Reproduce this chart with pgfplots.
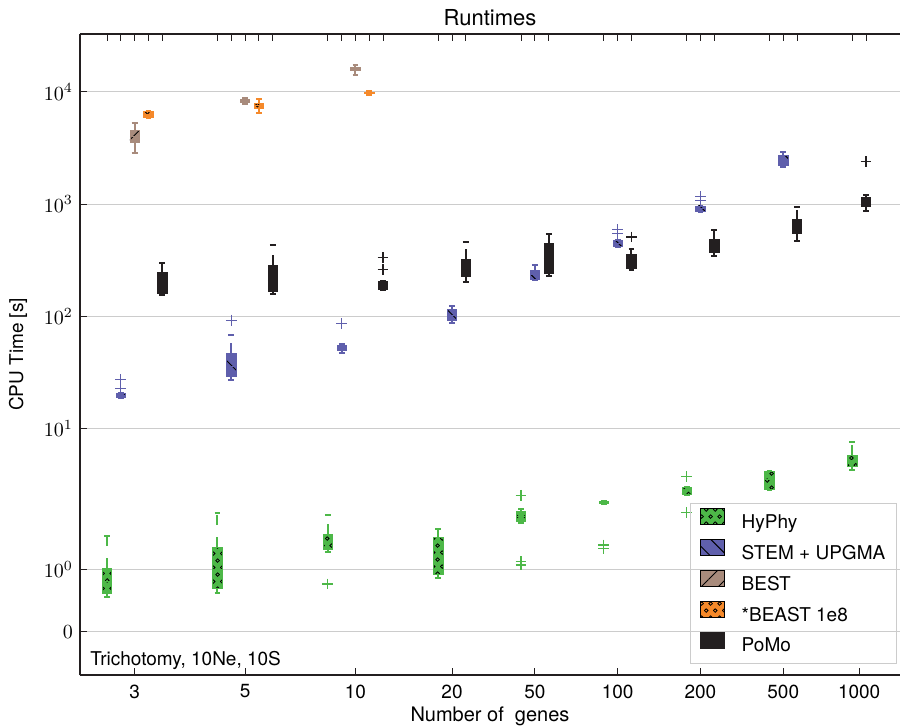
\documentclass[border=0pt]{standalone}
\usepackage{fontspec}
\setmainfont{TeX Gyre Heros}
\usepackage{pgfplots}
\pgfplotsset{compat=1.18}
\usepgfplotslibrary{statistics}
\usetikzlibrary{patterns.meta}

\definecolor{hyphy}{RGB}{77,184,72}
\definecolor{stem}{RGB}{95,95,172}
\definecolor{best}{RGB}{168,139,124}
\definecolor{beast}{RGB}{245,137,42}
\definecolor{pomo}{RGB}{35,31,32}

% small open circles, like the "o" hatch
\tikzdeclarepattern{
  name=rings,
  type=uncolored,
  bounding box={(0pt,0pt) and (4.4pt,7.2pt)},
  tile size={(4.4pt,7.2pt)},
  code={
    \draw[line width=0.4pt] (1.1pt,1.8pt) circle [radius=0.9pt];
    \draw[line width=0.4pt] (3.3pt,5.4pt) circle [radius=0.9pt];
  }
}

% symlog scale (linthresh 2, linscale 1), in decades
\newcommand\symlog[1]{%
  \if\relax\detokenize{#1}\relax\let\pgfmathresult\empty\else
  \begingroup\pgfkeys{/pgf/fpu=true,/pgf/fpu/output format=fixed}%
  \pgfmathparse{min(#1,2)*0.5555556+ln(max(#1,2)/2)*0.4342945}%
  \pgfmathsmuggle\pgfmathresult\endgroup\fi}
\newcommand\symexp[1]{%
  \if\relax\detokenize{#1}\relax\let\pgfmathresult\empty\else
  \begingroup\pgfkeys{/pgf/fpu=true,/pgf/fpu/output format=fixed}%
  \pgfmathparse{min(#1,1.1111111)*1.8+2*exp((max(#1,1.1111111)-1.1111111)*2.3025851)-2}%
  \pgfmathsmuggle\pgfmathresult\endgroup\fi}

\pgfplotsset{
  bx/.style 2 args={
    color=#1, solid, forget plot,
    mark=+, mark size=2.7pt, mark options={solid, line width=0.6pt},
    boxplot/draw direction=y,
    boxplot/box extend=0.68,
    boxplot/whisker extend=0.42,
    boxplot/every box/.style={draw=#1, fill=#1, line width=0.4pt, #2},
    boxplot/every whisker/.style={line width=1pt, dash pattern=on 5pt off 6pt},
    boxplot/every median/.style={line width=0.6pt},
  },
  hy/.style={bx={hyphy}{postaction={pattern=rings, pattern color=black}}},
  st/.style={bx={stem}{postaction={pattern={Lines[angle=-45,distance=6pt,line width=0.5pt]}, pattern color=black}}},
  be/.style={bx={best}{postaction={pattern={Lines[angle=45,distance=6pt,line width=0.5pt]}, pattern color=black}}},
  ba/.style={bx={beast}{postaction={pattern=rings, pattern color=black}}},
  po/.style={bx={pomo}{}},
}

% style, position, lower whisker, lower quartile, median, upper quartile, upper whisker, outliers
\newcommand\bx[8]{\addplot[#1, boxplot prepared={draw position=#2, lower whisker=#3, lower quartile=#4, median=#5, upper quartile=#6, upper whisker=#7}] coordinates {#8};}

\begin{document}
\begin{tikzpicture}
\begin{axis}[
  name=ax,
  width=410pt, height=320.8pt, scale only axis,
  xmin=-1.96, xmax=57.46,
  ymin=-0.7, ymax=33000,
  y coord trafo/.code={\symlog{#1}},
  y coord inv trafo/.code={\symexp{#1}},
  axis y line*=left,
  axis line style={draw=pomo, line width=1pt},
  tick pos=left,
  tick align=inside,
  major tick length=3.6pt,
  tick style={draw=pomo, line width=0.5pt},
  xtick={2,10,18,25,31,37,43,49,54.5},
  xticklabels={3,5,10,20,50,100,200,500,1000},
  xticklabel style={font=\fontsize{9.5}{11}\selectfont, yshift=-1.2pt},
  ytick={0,1,10,100,1000,10000},
  yticklabels={$0$,$10^{0}$,$10^{1}$,$10^{2}$,$10^{3}$,$10^{4}$},
  yticklabel style={font=\fontsize{10.3}{12}\selectfont},
  ymajorgrids,
  major grid style={draw=gray!40, line width=0.5pt},
  title={Runtimes},
  every axis title shift=0pt,
  title style={font=\fontsize{11}{13}\selectfont, at={(rel axis cs:0.5,1.0245)}, anchor=center, yshift=0pt},
  xlabel={Number of\ \ genes},
  xlabel style={font=\fontsize{10}{12}\selectfont, at={(rel axis cs:0.5,-0.0634)}, anchor=center},
  ylabel={CPU Time [s]},
  ylabel style={font=\fontsize{9.5}{11}\selectfont, at={(rel axis cs:-0.0756,0.5)}, anchor=center},
  legend style={at={(rel axis cs:0.9963,0.0176)}, anchor=south east,
    draw=gray!40, line width=0.7pt, fill=none,
    inner xsep=4.5pt, inner ysep=2.2pt, row sep=1.8pt, column sep=7.5pt,
    font=\fontsize{9.5}{11}\selectfont,
    nodes={inner xsep=1pt, inner ysep=1.5pt, text height=7pt, text depth=2pt}},
  legend cell align=left,
  legend image code/.code={\draw[#1] (0pt,-0.6pt) rectangle (12pt,7.4pt);},
]
\addlegendimage{fill=hyphy, draw=black, line width=0.5pt, postaction={pattern=rings, pattern color=black}}
\addlegendentry{HyPhy}
\addlegendimage{fill=stem, draw=black, line width=0.5pt, postaction={pattern={Lines[angle=-45,distance=6pt,line width=0.5pt]}, pattern color=black}}
\addlegendentry{STEM + UPGMA}
\addlegendimage{fill=best, draw=black, line width=0.5pt, postaction={pattern={Lines[angle=45,distance=6pt,line width=0.5pt]}, pattern color=black}}
\addlegendentry{BEST}
\addlegendimage{fill=beast, draw=black, line width=0.5pt, postaction={pattern=rings, pattern color=black}}
\addlegendentry{*BEAST 1e8}
\addlegendimage{fill=pomo, draw=pomo, line width=0.5pt}
\addlegendentry{PoMo}

% 3 genes
\bx{hy}{0}{0.55}{0.62}{0.80}{1.02}{1.54}{}
\bx{st}{1}{18.6}{19.0}{19.7}{20.5}{20.9}{(1,22.9) (1,27.2)}
\bx{be}{2}{2840}{3530}{4000}{4520}{5300}{}
\bx{ba}{3}{5850}{5950}{6300}{6650}{6780}{}
\bx{po}{4}{155}{161}{195}{248}{301}{}
% 5 genes
\bx{hy}{8}{0.616}{0.69}{1.0}{1.354}{1.90}{}
\bx{st}{9}{27}{29}{36}{47}{67.5}{(9,92.5)}
\bx{be}{10}{7870}{8100}{8360}{8600}{8770}{}
\bx{ba}{11}{6500}{7160}{7550}{7850}{8670}{}
\bx{po}{12}{158}{166}{210}{287}{433}{}
% 10 genes
\bx{hy}{16}{1.27}{1.32}{1.45}{1.56}{1.877}{(16,0.765)}
\bx{st}{17}{47.5}{50}{52}{54.5}{56.9}{(17,86.3)}
\bx{be}{18}{14250}{15500}{16000}{16500}{17500}{}
\bx{ba}{19}{9460}{9700}{9800}{9950}{10100}{}
\bx{po}{20}{170}{172}{190}{204}{206}{(20,260) (20,334)}
% 20 genes
\bx{hy}{24}{0.866}{0.921}{1.2}{1.508}{1.652}{}
\bx{st}{25}{88}{92}{102}{115}{123.5}{}
\bx{po}{26}{201}{225}{270}{324}{459}{}
% 50 genes
\bx{hy}{30}{1.74}{1.764}{1.85}{1.925}{1.963}{(30,1.07) (30,1.12) (30,2.54)}
\bx{st}{31}{212}{215}{235}{259}{287}{}
\bx{po}{32}{229}{240}{330}{450}{546}{}
% 100 genes
\bx{hy}{36}{2.12}{2.15}{2.2}{2.25}{2.28}{(36,1.33) (36,1.39)}
\bx{st}{37}{415}{421}{445}{475}{480}{(37,546) (37,593)}
\bx{po}{38}{261}{270}{300}{355}{401}{(38,509)}
% 200 genes
\bx{hy}{42}{2.55}{2.61}{2.8}{2.97}{3.0}{(42,1.915) (42,3.72)}
\bx{st}{43}{850}{859}{908}{963}{970}{(43,1070) (43,1170)}
\bx{po}{44}{347}{374}{420}{483}{593}{}
% 500 genes
\bx{hy}{48}{2.85}{2.88}{3.5}{4.13}{4.2}{}
\bx{st}{49}{2150}{2198}{2400}{2700}{2884}{}
\bx{po}{50}{473}{543}{620}{724}{933}{}
% 1000 genes
\bx{hy}{54}{4.28}{4.58}{5.2}{5.82}{7.6}{}
\bx{po}{55}{871}{952}{1050}{1154}{1211}{(55,2382)}

\node[anchor=base west, inner sep=0pt, font=\fontsize{9.5}{11}\selectfont] at (rel axis cs:0.0122,0.015) {Trichotomy, 10Ne, 10S};
\end{axis}

% ticks at the box positions along the top edge
\begin{axis}[
  width=410pt, height=320.8pt, scale only axis,
  xmin=-1.96, xmax=57.46, ymin=0, ymax=1,
  axis x line*=top, axis y line=none,
  axis line style={draw=pomo, line width=1pt},
  tick align=inside, major tick length=3.6pt,
  tick style={draw=pomo, line width=0.5pt},
  xtick={0,1,2,3,4,8,9,10,11,12,16,17,18,19,20,24,25,26,30,31,32,36,37,38,42,43,44,48,49,50,54,55},
  xticklabels={},
]
\end{axis}

\pgfresetboundingbox
\path[use as bounding box] ([shift={(-40pt,-26.35pt)}]ax.south west) rectangle ([shift={(0.5pt,16.85pt)}]ax.north east);
\end{tikzpicture}
\end{document}
